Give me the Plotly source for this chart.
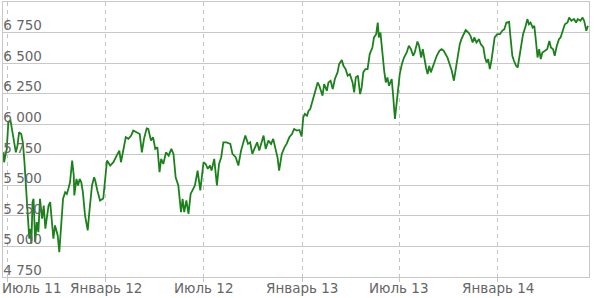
import pandas as pd
import plotly.graph_objects as go

# ---- data ----
start_date = "2011-07-01"
# days since start_date
days = [-7, -6, -1, 2, 6, 9, 12, 16, 19, 22, 26, 29, 32, 37, 41, 43, 45, 47, 49, 52,
        55, 58, 61, 65, 68, 71, 74, 77, 80, 83, 86, 89, 94, 97, 101, 104, 108, 111, 114, 117,
        121, 124, 125, 129, 132, 135, 138, 141, 145, 150, 153, 158, 162, 164, 168, 173, 179, 186, 192, 198,
        204, 209, 212, 217, 221, 226, 231, 235, 242, 247, 251, 255, 260, 263, 268, 272, 276, 280, 284, 287,
        291, 296, 301, 306, 310, 314, 319, 324, 327, 330, 334, 338, 342, 347, 350, 355, 360, 366, 370, 374,
        378, 381, 386, 391, 395, 399, 403, 409, 416, 420, 426, 431, 436, 444, 449, 453, 457, 462, 466, 470,
        475, 478, 482, 487, 492, 496, 501, 504, 507, 512, 517, 521, 526, 531, 535, 540, 545, 549, 552, 555,
        559, 562, 565, 569, 574, 579, 582, 585, 588, 591, 596, 599, 603, 607, 611, 616, 619, 624, 627, 631,
        635, 639, 644, 647, 650, 654, 658, 661, 664, 668, 672, 676, 681, 684, 688, 691, 693, 696, 698, 701,
        703, 706, 709, 712, 717, 720, 723, 726, 729, 732, 736, 740, 745, 749, 753, 757, 760, 765, 768, 772,
        775, 778, 781, 784, 787, 790, 793, 796, 801, 806, 810, 814, 818, 821, 826, 829, 833, 836, 840, 844,
        847, 852, 855, 860, 864, 868, 871, 875, 880, 883, 888, 891, 894, 897, 900, 903, 906, 909, 914, 919,
        923, 927, 931, 936, 938, 942, 945, 949, 952, 954, 958, 962, 967, 970, 973, 976, 980, 983, 986, 989,
        992, 995, 998, 1003, 1007, 1011, 1014, 1018, 1021, 1025, 1029, 1032, 1037, 1040, 1045, 1048, 1052, 1057, 1061, 1064,
        1069, 1073, 1076, 1080, 1083]
index_values = [5770, 5689, 5798, 6015, 6029, 5961, 5880, 5770, 5825, 5934, 5920, 5852, 5689, 5335, 5063, 5145, 5022, 5362, 5390, 5036,
                5199, 5117, 5390, 5227, 5335, 5145, 5254, 5335, 5362, 5227, 5063, 5172, 5090, 4954, 5254, 5390, 5444, 5430, 5472, 5525,
                5703, 5580, 5417, 5553, 5499, 5553, 5525, 5444, 5254, 5131, 5281, 5499, 5566, 5540, 5458, 5376, 5392, 5703, 5662, 5689,
                5743, 5784, 5689, 5798, 5893, 5880, 5907, 5948, 5934, 5920, 5770, 5880, 5966, 5961, 5866, 5893, 5798, 5811, 5607, 5716,
                5675, 5770, 5743, 5798, 5757, 5566, 5499, 5281, 5390, 5281, 5376, 5267, 5430, 5472, 5499, 5621, 5458, 5689, 5675, 5635,
                5662, 5621, 5716, 5499, 5675, 5730, 5852, 5852, 5839, 5757, 5730, 5662, 5784, 5907, 5839, 5852, 5757, 5811, 5852, 5784,
                5852, 5907, 5798, 5866, 5839, 5880, 5784, 5730, 5621, 5757, 5811, 5839, 5893, 5920, 5961, 5948, 5953, 5899, 6056, 6084,
                6070, 6111, 6124, 6192, 6274, 6342, 6315, 6274, 6233, 6329, 6274, 6342, 6356, 6288, 6370, 6424, 6492, 6525, 6478, 6451,
                6397, 6410, 6342, 6260, 6383, 6397, 6247, 6301, 6424, 6451, 6451, 6574, 6628, 6710, 6737, 6832, 6710, 6750, 6655, 6574,
                6437, 6342, 6383, 6315, 6370, 6220, 6043, 6165, 6274, 6410, 6492, 6546, 6587, 6642, 6614, 6560, 6587, 6677, 6642, 6546,
                6614, 6519, 6464, 6410, 6478, 6424, 6464, 6492, 6560, 6601, 6614, 6601, 6574, 6546, 6478, 6437, 6356, 6437, 6574, 6655,
                6696, 6737, 6770, 6750, 6723, 6669, 6710, 6669, 6696, 6655, 6628, 6546, 6505, 6533, 6451, 6519, 6628, 6710, 6737, 6737,
                6764, 6777, 6832, 6837, 6737, 6560, 6519, 6478, 6464, 6519, 6614, 6737, 6805, 6860, 6818, 6832, 6791, 6805, 6682, 6546,
                6614, 6533, 6587, 6601, 6614, 6682, 6628, 6614, 6560, 6642, 6696, 6710, 6777, 6818, 6832, 6873, 6846, 6860, 6832, 6860,
                6846, 6873, 6846, 6764, 6805]

x_tick_dates = ["2011-07-01", "2012-01-01", "2012-07-01", "2013-01-01", "2013-07-01", "2014-01-01"]
x_tick_labels = ["Июль 11", "Январь 12", "Июль 12", "Январь 13", "Июль 13", "Январь 14"]
y_tick_values = [4750, 5000, 5250, 5500, 5750, 6000, 6250, 6500, 6750]
y_tick_labels = ["4 750", "5 000", "5 250", "5 500", "5 750", "6 000", "6 250", "6 500", "6 750"]
x_range = ["2011-06-23", "2014-06-20"]
y_range = [4750, 7000]

dates = pd.Timestamp(start_date) + pd.to_timedelta(days, unit="D")

FONT = "DejaVu Sans, Liberation Sans, Arial, sans-serif"
LABEL_FONT = dict(family=FONT, size=13.5, color="#666666")
fig = go.Figure()
fig.add_trace(go.Scatter(x=dates, y=index_values, mode="lines",
                         line=dict(color="#1b821b", width=1.8), hoverinfo="skip"))

fig.update_layout(
    width=597, height=298,
    margin=dict(l=3, r=8, t=2, b=21),
    paper_bgcolor="white", plot_bgcolor="white",
    showlegend=False,
    font=LABEL_FONT,
)
fig.update_xaxes(
    type="date", range=x_range,
    tickvals=x_tick_dates, showticklabels=False,
    showgrid=True, gridcolor="#c4c4c4", griddash="4px,4px", gridwidth=1,
    ticks="outside", ticklen=4, tickcolor="#c4c4c4",
    showline=True, mirror=True, linecolor="#c8c8c8", linewidth=1,
    zeroline=False,
)
# x labels: centred under their date, the first one kept inside the chart's left edge
for i, (d, lab) in enumerate(zip(x_tick_dates, x_tick_labels)):
    if i == 0:
        fig.add_annotation(text=lab, xref="paper", yref="paper", x=0, y=0,
                           xanchor="left", yanchor="middle", xshift=-3, yshift=-10.5,
                           showarrow=False, font=LABEL_FONT)
    else:
        fig.add_annotation(text=lab, xref="x", yref="paper", x=d, y=0,
                           xanchor="center", yanchor="middle", yshift=-10.5,
                           showarrow=False, font=LABEL_FONT)

fig.update_yaxes(
    range=y_range, tickvals=y_tick_values, ticktext=y_tick_labels,
    showgrid=True, gridcolor="#c8c8c8", gridwidth=1,
    ticklabelposition="inside", ticklabelshift=-7, ticklabelstandoff=0,
    ticklabeloverflow="allow",
    showline=True, mirror=True, linecolor="#c8c8c8", linewidth=1,
    zeroline=False, tickfont=LABEL_FONT,
)

fig.write_html("out.html")
